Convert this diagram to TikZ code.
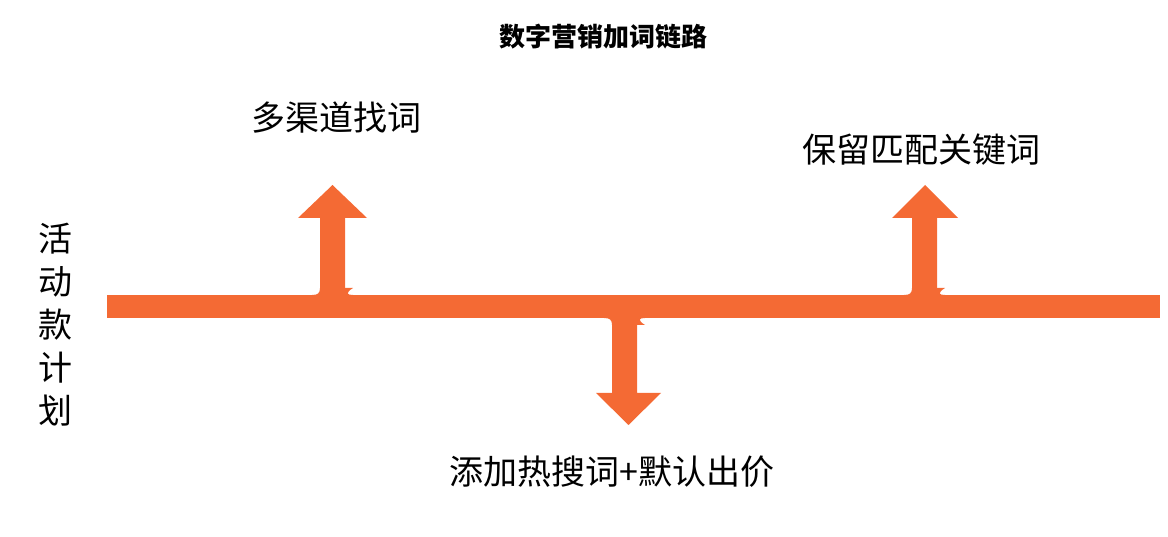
\documentclass[tikz,border=0pt]{standalone}
\usepackage{fontspec}
\setmainfont{Noto Sans CJK SC}
\newfontfamily\cjkbold[BoldFont={Noto Sans CJK SC Bold}]{Noto Sans CJK SC}
\begin{document}
\begin{tikzpicture}[x=1pt,y=-1pt,
  arr/.style={fill=orange!60!red!90!white, draw=none},
  lbl/.style={inner sep=0pt, font=\fontsize{34}{40}\selectfont}]
\definecolor{og}{HTML}{F46A34}
\useasboundingbox (0,0) rectangle (1168,537);
% bar
\fill[og] (107,295) rectangle (1160,318);
% up arrow 1
\fill[og] (320,297) -- (320,218) -- (298,218) -- (332.5,185) -- (367,218) -- (345,218) -- (345,297) -- cycle;
\fill[og] (312,295) .. controls (318,295) and (320,293) .. (320,288) -- (353,288) .. controls (345,293) and (347,295) .. (353,295) -- cycle;
% up arrow 2
\fill[og] (912,297) -- (912,218) -- (892,218) -- (925,185) -- (958,218) -- (937,218) -- (937,297) -- cycle;
\fill[og] (904,295) .. controls (910,295) and (912,293) .. (912,288) -- (945,288) .. controls (937,293) and (939,295) .. (945,295) -- cycle;
% down arrow
\fill[og] (612,316) -- (612,393) -- (596,393) -- (628.5,425) -- (661,393) -- (637,393) -- (637,316) -- cycle;
\fill[og] (604,318) .. controls (610,318) and (612,320) .. (612,325) -- (645,325) .. controls (637,320) and (639,318) .. (645,318) -- cycle;
% texts
\node[inner sep=0pt, font=\fontsize{26}{30}\selectfont\bfseries] (title) at (603,37) {数字营销加词链路};
\node[lbl] (t1) at (336,118) {多渠道找词};
\node[lbl] (t2) at (921,150) {保留匹配关键词};
\node[lbl] (t3) at (612,472) {添加热搜词+默认出价};
\node[lbl, align=center, font=\fontsize{34}{43}\selectfont] (side) at (55,325) {活\\动\\款\\计\\划};
\end{tikzpicture}
\end{document}
